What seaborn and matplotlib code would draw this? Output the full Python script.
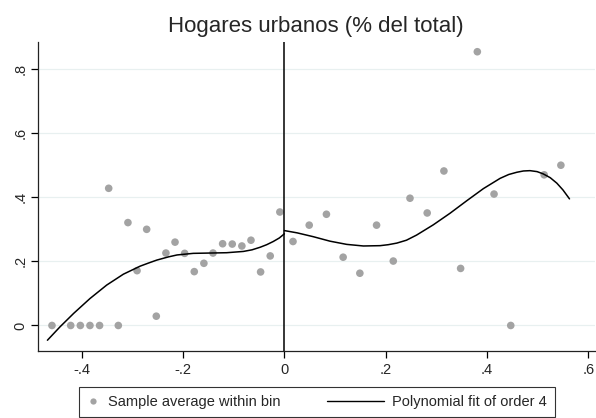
import matplotlib
matplotlib.use('Agg')
import matplotlib.pyplot as plt
from matplotlib.lines import Line2D
from matplotlib.legend_handler import HandlerBase
import seaborn as sns
import pandas as pd

# ------------------------------------------------------------
# data
# ------------------------------------------------------------
# bin averages, left of cutoff
bin_x_left = [-0.459, -0.422, -0.403, -0.384, -0.365, -0.347, -0.328, -0.309,
              -0.291, -0.272, -0.253, -0.234, -0.216, -0.197, -0.178, -0.159,
              -0.141, -0.122, -0.103, -0.084, -0.066, -0.047, -0.028, -0.009]
bin_y_left = [0.0, 0.0, 0.0, 0.0, 0.0, 0.428, 0.0, 0.321,
              0.171, 0.300, 0.029, 0.226, 0.260, 0.225, 0.168, 0.194,
              0.226, 0.255, 0.254, 0.248, 0.266, 0.167, 0.217, 0.354]

# bin averages, right of cutoff
bin_x_right = [0.017, 0.049, 0.083, 0.116, 0.149, 0.182, 0.215, 0.248,
               0.282, 0.315, 0.348, 0.381, 0.414, 0.447, 0.513, 0.546]
bin_y_right = [0.262, 0.313, 0.347, 0.213, 0.163, 0.313, 0.201, 0.397,
               0.351, 0.482, 0.178, 0.854, 0.410, 0.0, 0.470, 0.500]

# polynomial fit (order 4) as drawn, left side
fit_x_left = [-0.468, -0.443, -0.416, -0.384, -0.351, -0.318, -0.285, -0.268,
              -0.252, -0.229, -0.212, -0.180, -0.147, -0.114, -0.081, -0.064,
              -0.048, -0.035, -0.022, -0.010, 0.0]
fit_y_left = [-0.046, -0.004, 0.038, 0.084, 0.126, 0.160, 0.185, 0.195,
              0.204, 0.214, 0.220, 0.225, 0.226, 0.227, 0.231, 0.236,
              0.244, 0.252, 0.262, 0.273, 0.286]

# polynomial fit (order 4) as drawn, right side
fit_x_right = [0.0, 0.025, 0.057, 0.090, 0.123, 0.156, 0.189, 0.205, 0.222,
               0.241, 0.261, 0.294, 0.327, 0.360, 0.393, 0.426, 0.443, 0.459,
               0.472, 0.485, 0.499, 0.511, 0.525, 0.538, 0.550, 0.563]
fit_y_right = [0.296, 0.289, 0.277, 0.263, 0.253, 0.248, 0.249, 0.252, 0.257,
               0.266, 0.282, 0.314, 0.350, 0.389, 0.427, 0.459, 0.471, 0.478,
               0.482, 0.483, 0.480, 0.473, 0.461, 0.444, 0.423, 0.395]

x_ticks = [-0.4, -0.2, 0, 0.2, 0.4, 0.6]
x_tick_labels = ['-.4', '-.2', '0', '.2', '.4', '.6']
y_ticks = [0, 0.2, 0.4, 0.6, 0.8]
y_tick_labels = ['0', '.2', '.4', '.6', '.8']

title = 'Hogares urbanos (% del total)'
legend_labels = ['Sample average within bin', 'Polynomial fit of order 4']


class LongLineHandler(HandlerBase):
    """Legend line that reaches left of its (short) handle box."""
    def __init__(self, extra=32, **kw):
        super().__init__(**kw)
        self.extra = extra

    def create_artists(self, legend, orig_handle, xdescent, ydescent,
                       width, height, fontsize, trans):
        y = height / 2 - ydescent
        line = Line2D([-xdescent - self.extra, -xdescent + width], [y, y],
                      color=orig_handle.get_color(), lw=orig_handle.get_linewidth())
        line.set_transform(trans)
        return [line]


# ------------------------------------------------------------
# plot
# ------------------------------------------------------------
sns.set_style('white')
plt.rcParams['font.family'] = ['Liberation Sans', 'DejaVu Sans']

dot_color = '#a3a3a3'
grid_color = '#e8f0f0'

bins = pd.DataFrame({'x': bin_x_left + bin_x_right,
                     'y': bin_y_left + bin_y_right})
fit_l = pd.DataFrame({'x': fit_x_left, 'y': fit_y_left})
fit_r = pd.DataFrame({'x': fit_x_right, 'y': fit_y_right})

fig = plt.figure(figsize=(5.96, 4.18), dpi=100)
ax = fig.add_axes([0.063, 0.16, 0.935, 0.74])

for yt in y_ticks:
    ax.axhline(yt, color=grid_color, lw=0.9, zorder=0)

sns.scatterplot(data=bins, x='x', y='y', ax=ax, color=dot_color, s=30,
                edgecolor='none', zorder=3)
sns.lineplot(data=fit_l, x='x', y='y', ax=ax, color='black', lw=1.1,
             sort=False, estimator=None, zorder=4)
sns.lineplot(data=fit_r, x='x', y='y', ax=ax, color='black', lw=1.1,
             sort=False, estimator=None, zorder=4)
ax.axvline(0, color='black', lw=1.1, zorder=5)

ax.set_xlim(-0.4875, 0.613)
ax.set_ylim(-0.08, 0.885)
ax.set_xticks(x_ticks)
ax.set_xticklabels(x_tick_labels)
ax.set_yticks(y_ticks)
ax.set_yticklabels(y_tick_labels, rotation=90, va='center')
ax.tick_params(axis='both', direction='out', length=5, width=0.9,
               color='black', labelsize=10.5, bottom=True, left=True)
ax.tick_params(axis='y', pad=2)
ax.set_xlabel('')
ax.set_ylabel('')
for side in ['top', 'right']:
    ax.spines[side].set_visible(False)
for side in ['left', 'bottom']:
    ax.spines[side].set_color('#222222')
    ax.spines[side].set_linewidth(0.9)

ax.set_title(title, fontsize=16, pad=7)

dot_handle = Line2D([], [], marker='o', color=dot_color, linestyle='none',
                    markersize=4.5, markeredgewidth=0)
fit_handle = Line2D([], [], color='black', lw=1.0)
leg = fig.legend([dot_handle, fit_handle], legend_labels,
                 handler_map={fit_handle: LongLineHandler(extra=32)},
                 loc='lower center', bbox_to_anchor=(0.532, 0.003), ncol=2,
                 frameon=True, fancybox=False, fontsize=10.5, handlelength=0.8,
                 columnspacing=6.3, handletextpad=0.6, borderpad=0.55,
                 borderaxespad=0)
leg.get_frame().set_edgecolor('black')
leg.get_frame().set_linewidth(0.8)

fig.savefig('out.png', dpi=100)
